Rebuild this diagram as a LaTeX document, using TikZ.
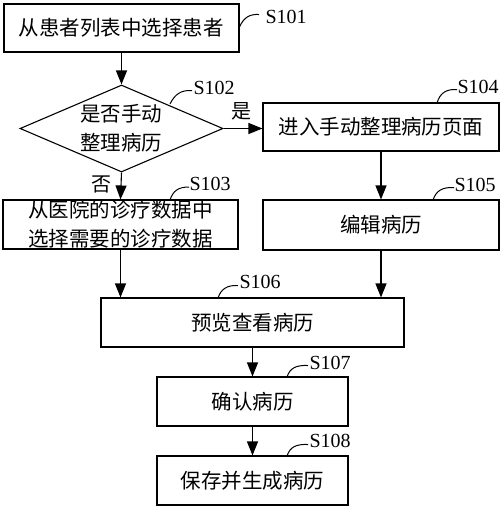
\documentclass[tikz,border=0pt]{standalone}
\usepackage{fontspec}
\setmainfont{Liberation Serif}
\newfontfamily\cjk{Noto Sans CJK SC}
\usetikzlibrary{arrows.meta,shapes.geometric}
\begin{document}
\begin{tikzpicture}[x=1pt,y=-1pt,
  line width=1.1pt,
  box/.style={draw,rectangle,inner sep=0pt,align=center,font=\cjk\fontsize{20.5}{29}\selectfont},
  dec/.style={draw,diamond,inner sep=0pt,align=center,font=\cjk\fontsize{20.5}{29}\selectfont},
  flow/.style={-{Triangle[length=14pt,width=11pt]}},
  lead/.style={line width=1pt},
  lab/.style={font=\fontsize{20}{20}\selectfont,inner sep=0pt,anchor=west},
  yn/.style={font=\cjk\fontsize{20}{20}\selectfont,inner sep=0pt}]
\useasboundingbox (0,0) rectangle (500,507);
\node[box,minimum width=235pt,minimum height=48pt] (s101) at (121.5,28) {从患者列表中选择患者};
\node[dec,minimum width=203pt,minimum height=87pt] (s102) at (121.5,128.5) {};
\node[font=\cjk\fontsize{20.5}{29}\selectfont,align=center] (s102t) at (121.5,128.5) {是否手动\\整理病历};
\node[box,minimum width=236pt,minimum height=48pt] (s104) at (381,127) {进入手动整理病历页面};
\node[box,minimum width=236pt,minimum height=50pt] (s105) at (381,225) {编辑病历};
\node[box,minimum width=235pt,minimum height=49pt] (s103) at (120.5,224.5) {从医院的诊疗数据中\\选择需要的诊疗数据};
\node[box,minimum width=303pt,minimum height=49pt] (s106) at (252.5,322.5) {预览查看病历};
\node[box,minimum width=191pt,minimum height=49pt] (s107) at (252.5,401.5) {确认病历};
\node[box,minimum width=191pt,minimum height=49pt] (s108) at (252.5,480.5) {保存并生成病历};
% arrows
\draw[flow] (s101.south) -- (s102.north);
\draw[flow] (s102.east) -- (s102.east -| s104.west);
\draw[flow] (s104.south) -- (s105.north);
\draw[flow] (s102.south) -- (s103.north);
\draw[flow] (s103.south) -- (s103.south |- s106.north);
\draw[flow] (s105.south) -- (s105.south |- s106.north);
\draw[flow] (s106.south) -- (s107.north);
\draw[flow] (s107.south) -- (s108.north);
\node[yn] (yes) at (241,111) {是};
\node[yn] (no) at (102,184) {否};
% step labels
\coordinate (c101) at (239.5,27);
\node[lab] (l101) at (265,17) {S101};
\draw[lead] (c101) .. controls (244,17) and (250,14) .. (259,14.5);
\coordinate (c102) at (170,104);
\node[lab] (l102) at (193,88) {S102};
\draw[lead] (c102) .. controls (175,94) and (181,90) .. (192,90.5);
\coordinate (c104) at (437,103);
\node[lab] (l104) at (457,87) {S104};
\draw[lead] (c104) .. controls (440,93) and (446,89) .. (457,89.5);
\coordinate (c105) at (433,200);
\node[lab] (l105) at (454,185) {S105};
\draw[lead] (c105) .. controls (436,191) and (442,187) .. (454,187.5);
\coordinate (c103) at (170,200);
\node[lab] (l103) at (189,184) {S103};
\draw[lead] (c103) .. controls (173,191) and (178,187) .. (189,187);
\coordinate (c106) at (218,298);
\node[lab] (l106) at (239,282) {S106};
\draw[lead] (c106) .. controls (221,289) and (227,285) .. (238,285.5);
\coordinate (c107) at (287,377);
\node[lab] (l107) at (309,363) {S107};
\draw[lead] (c107) .. controls (290,368) and (296,365) .. (308,365.5);
\coordinate (c108) at (287,456);
\node[lab] (l108) at (309,441) {S108};
\draw[lead] (c108) .. controls (290,447) and (296,444) .. (308,444.5);
\end{tikzpicture}
\end{document}
